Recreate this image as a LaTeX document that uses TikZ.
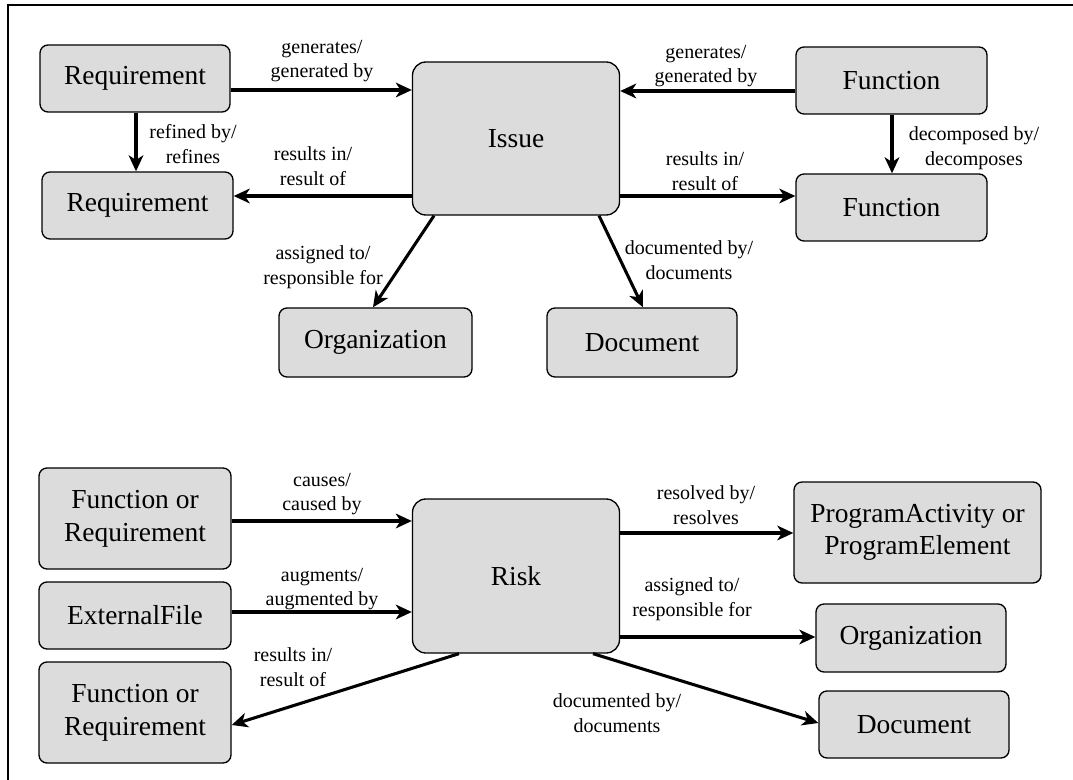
\documentclass[tikz,border=0pt]{standalone}
\usepackage{fontspec}
\setmainfont{Liberation Serif}
\usetikzlibrary{arrows.meta}
\definecolor{boxfill}{HTML}{DCDCDC}
\begin{document}
\begin{tikzpicture}[x=0.75pt,y=-0.75pt,
  box/.style={draw=black, line width=1pt, fill=boxfill, rounded corners=6pt,
    align=center, inner sep=0pt, font=\fontsize{20.6}{24.5}\selectfont},
  hub/.style={box, rounded corners=10pt},
  sz/.style 2 args={minimum width=#1*0.75pt, minimum height=#2*0.75pt},
  rel/.style={line width=2.3pt, -{Stealth[length=12pt,width=11pt,inset=3.5pt]}},
  lbl/.style={align=center, inner sep=0pt, font=\fontsize{15}{18.5}\selectfont}]

\useasboundingbox (0,0) rectangle (1073,780);
\draw[line width=1.1pt] (8,780) -- (8,5) -- (1073,5);

% ---------- Issue relationships ----------
\node[hub, sz={207}{153}] (issue) at (516,138.5) {Issue};
\node[box, sz={190}{67}] (req1) at (135,78.5) {Requirement};
\node[box, sz={191}{67}] (req2) at (137.5,205.5) {Requirement};
\node[box, sz={191}{67}] (fun1) at (891.5,80.5) {Function};
\node[box, sz={191}{67}] (fun2) at (891.5,207.5) {Function};
\node[box, sz={193}{69}] (org1) at (375.5,342.5) {Organization};
\node[box, sz={190}{69}] (doc1) at (642,342.5) {Document};

\draw[rel] (req1.east |- 0,90) -- (issue.west |- 0,90);
\draw[rel] (req1.south -| 136,0) -- (req2.north -| 136,0);
\draw[rel] (issue.west |- 0,196) -- (req2.east |- 0,196);
\draw[rel] (fun1.west |- 0,91) -- (issue.east |- 0,91);
\draw[rel] (fun1.south -| 892,0) -- (fun2.north -| 892,0);
\draw[rel] (issue.east |- 0,196) -- (fun2.west |- 0,196);
\draw[rel] (issue.south -| 434,0) -- (org1.north -| 373,0);
\draw[rel] (issue.south -| 599,0) -- (doc1.north -| 643,0);

\node[lbl] (l1) at (322,61) {generates/\\generated by};
\node[lbl] (l2) at (193,144) {refined by/\\refines};
\node[lbl] (l3) at (313,166) {results in/\\result of};
\node[lbl] (l4) at (323,267) {assigned to/\\responsible for};
\node[lbl] (l5) at (706,66) {generates/\\generated by};
\node[lbl] (l6) at (974,148) {decomposed by/\\decomposes};
\node[lbl] (l7) at (705,171) {results in/\\result of};
\node[lbl] (l8) at (689,260) {documented by/\\documents};

% ---------- Risk relationships ----------
\node[hub, sz={207}{154}] (risk) at (516,576) {Risk};
\node[box, sz={192}{101}] (for1) at (135,518.5) {Function or\\Requirement};
\node[box, sz={192}{67}] (ext) at (135,615.5) {ExternalFile};
\node[box, sz={192}{101}] (for2) at (135,712.5) {Function or\\Requirement};
\node[box, sz={247}{101}] (pape) at (917.5,532.5) {ProgramActivity or\\ProgramElement};
\node[box, sz={190}{68}] (org2) at (911,638) {Organization};
\node[box, sz={190}{67}] (doc2) at (914,724.5) {Document};

\draw[rel] (for1.east |- 0,521) -- (risk.west |- 0,521);
\draw[rel] (ext.east |- 0,612) -- (risk.west |- 0,612);
\draw[rel] (risk.south -| 459,0) -- (for2.east |- 0,725);
\draw[rel] (risk.east |- 0,533) -- (pape.west |- 0,533);
\draw[rel] (risk.east |- 0,637) -- (org2.west |- 0,637);
\draw[rel] (risk.south -| 593,0) -- (doc2.west |- 0,723);

\node[lbl] (m1) at (322,494) {causes/\\caused by};
\node[lbl] (m2) at (322,589) {augments/\\augmented by};
\node[lbl] (m3) at (293,667) {results in/\\result of};
\node[lbl] (m4) at (706,505) {resolved by/\\resolves};
\node[lbl] (m5) at (692,599) {assigned to/\\responsible for};
\node[lbl] (m6) at (617,713) {documented by/\\documents};
\end{tikzpicture}
\end{document}
